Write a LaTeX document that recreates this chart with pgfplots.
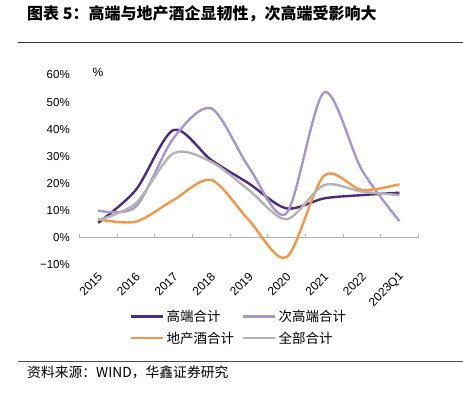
\documentclass[border=0pt]{standalone}
\usepackage{pgfplots}
\pgfplotsset{compat=1.18}
\usepackage{fontspec}
\setmainfont{Liberation Sans}
\newfontfamily\cjk{Noto Sans CJK SC}
\definecolor{hi}{HTML}{4E2A84}
\definecolor{sub}{HTML}{A596D2}
\definecolor{loc}{HTML}{F79646}
\definecolor{allc}{HTML}{B3B3B3}
\begin{document}
\begin{tikzpicture}[x=1pt,y=1pt]
\path[use as bounding box] (0,0) rectangle (463,-393);
\node[anchor=west, inner sep=0pt, font=\cjk\bfseries\fontsize{16}{18}\selectfont] at (27,-14) {图表 5：高端与地产酒企显韧性，次高端受影响大};
\draw[black!80, line width=0.8pt] (18,-42.5) -- (463,-42.5);
\draw[black!70, line width=0.8pt] (18,-361) -- (463,-361);
\node[anchor=west, inner sep=0pt, font=\cjk\fontsize{13.8}{15}\selectfont] at (27,-372) {资料来源：WIND，华鑫证券研究};
\node[font=\fontsize{12}{14}\selectfont] at (98,-72) {\%};
\begin{axis}[
  at={(79.3pt,-264.8pt)}, anchor=south west, scale only axis,
  width=339pt, height=189.8pt,
  xmin=-0.5, xmax=8.5, ymin=-10, ymax=60,
  axis line style={draw=none},
  major tick length=0pt,
  xtick={0,...,8},
  xticklabels={2015,2016,2017,2018,2019,2020,2021,2022,2023Q1},
  xticklabel shift=9pt,
  xticklabel style={xshift=3pt, rotate=45, anchor=east, font=\fontsize{12}{14}\selectfont, inner sep=1pt},
  ytick={-10,0,10,20,30,40,50,60},
  yticklabels={−10\%,0\%,10\%,20\%,30\%,40\%,50\%,60\%},
  yticklabel style={font=\fontsize{11.5}{13}\selectfont, xshift=-6pt},
  clip=false,
  legend style={at={(0.14,-0.215)}, anchor=north west, draw=none, fill=none,
    font=\cjk\fontsize{13.5}{15}\selectfont, row sep=5pt,
    /tikz/every even column/.append style={column sep=6pt}},
  legend columns=2, legend cell align=left,
  legend image code/.code={\draw[#1, line width=2.6pt] (0pt,0pt) -- (32pt,0pt);},
  every axis plot/.append style={line width=2.4pt, smooth},
]
\draw[gray!60, line width=0.9pt] (axis cs:-0.5,0) -- (axis cs:8.5,0);
\pgfplotsinvokeforeach{-0.5,0.5,1.5,2.5,3.5,4.5,5.5,6.5,7.5,8.5}{
  \draw[gray!60, line width=0.9pt] (axis cs:#1,0) -- (axis cs:#1,1.5);
}
\addplot[hi] coordinates {(0,5.5) (1,17.6) (2,39.7) (3,28.7) (4,20.0) (5,10.8) (6,14.5) (7,15.7) (8,16.6)};
\addlegendentry{高端合计}
\addplot[sub] coordinates {(0,10.0) (1,11.5) (2,36.7) (3,47.7) (4,26.0) (5,9.0) (6,53.6) (7,25.0) (8,6.1)};
\addlegendentry{次高端合计}
\addplot[loc] coordinates {(0,6.8) (1,5.9) (2,13.9) (3,21.3) (4,6.5) (5,-7.2) (6,22.9) (7,17.6) (8,19.7)};
\addlegendentry{地产酒合计}
\addplot[allc] coordinates {(0,6.5) (1,12.7) (2,31.1) (3,28.0) (4,17.6) (5,6.8) (6,19.4) (7,17.0) (8,15.7)};
\addlegendentry{全部合计}
\end{axis}
\end{tikzpicture}
\end{document}
